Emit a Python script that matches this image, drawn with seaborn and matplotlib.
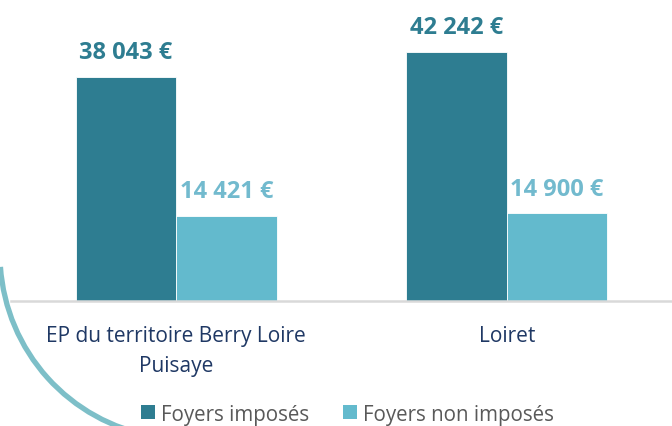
import numpy as np
import pandas as pd
import matplotlib
matplotlib.use('Agg')
import matplotlib.pyplot as plt
import seaborn as sns
from matplotlib.patches import Arc, Patch

sns.set_style('white')
plt.rcParams['font.family'] = ['Open Sans', 'DejaVu Sans']

# data
TERRITOIRES = ['EP du territoire Berry Loire\nPuisaye', 'Loiret']
FOYERS = ['Foyers imposés', 'Foyers non imposés']
IMPOSES = [38043, 42242]
NON_IMPOSES = [14421, 14900]

DARK = '#2E7D91'
LIGHT = '#63BACD'
DARK_TXT = '#2E7D91'
LIGHT_TXT = '#72BACE'
NAVY = '#1F3864'
GREY = '#595959'
AXIS_GREY = '#D9D9D9'
ARC = '#7DBFC8'

df = pd.DataFrame({
    'territoire': TERRITOIRES * 2,
    'foyer': [FOYERS[0]] * 2 + [FOYERS[1]] * 2,
    'revenu': IMPOSES + NON_IMPOSES,
})

fig = plt.figure(figsize=(6.72, 4.27), dpi=100)

# decorative arc from the slide background (pixel space)
bg = fig.add_axes([0, 0, 1, 1], zorder=-1)
bg.set_xlim(0, 672)
bg.set_ylim(427, 0)
bg.axis('off')
bg.add_patch(Arc((185, 255), 370, 370, theta1=100, theta2=176, ec=ARC, lw=3.8))

ax = fig.add_axes([0.0164, 0.2927, 0.9836, 0.6909])
ax.patch.set_alpha(0)
sns.barplot(data=df, x='territoire', y='revenu', hue='foyer',
            palette=[DARK, LIGHT], saturation=1, width=0.607, gap=0, ax=ax,
            edgecolor='white', linewidth=0.6, legend=False)

ax.set_xlim(-0.5, 1.4887)
ax.set_ylim(0, 50000)

fmt = lambda v: f'{v:,.0f} €'.replace(',', ' ')
for cont, col in zip(ax.containers, [DARK_TXT, LIGHT_TXT]):
    ax.bar_label(cont, labels=[fmt(v) for v in cont.datavalues], padding=9,
                 color=col, fontsize=17, fontweight='bold')

sns.despine(ax=ax, left=True)
ax.spines['bottom'].set_color(AXIS_GREY)
ax.spines['bottom'].set_linewidth(1.8)
ax.set_yticks([])
ax.set_xlabel('')
ax.set_ylabel('')
ax.set_xticks([-0.5, 0.5, 1.5], minor=True)
ax.tick_params(axis='x', which='minor', length=6, width=1.2, color=AXIS_GREY, direction='out')
ax.tick_params(axis='x', which='major', length=0, pad=17, labelsize=15, labelcolor=NAVY)
for t in ax.get_xticklabels():
    t.set_linespacing(1.6)

handles = [Patch(facecolor=c, edgecolor='none') for c in [DARK, LIGHT]]
fig.legend(handles, FOYERS, loc='center', bbox_to_anchor=(0.517, 0.028), ncol=2,
           frameon=False, fontsize=14.8, labelcolor=GREY, handlelength=0.68,
           handleheight=0.68, handletextpad=0.3, columnspacing=1.65,
           borderpad=0.1)

fig.savefig('out.png', dpi=100)
